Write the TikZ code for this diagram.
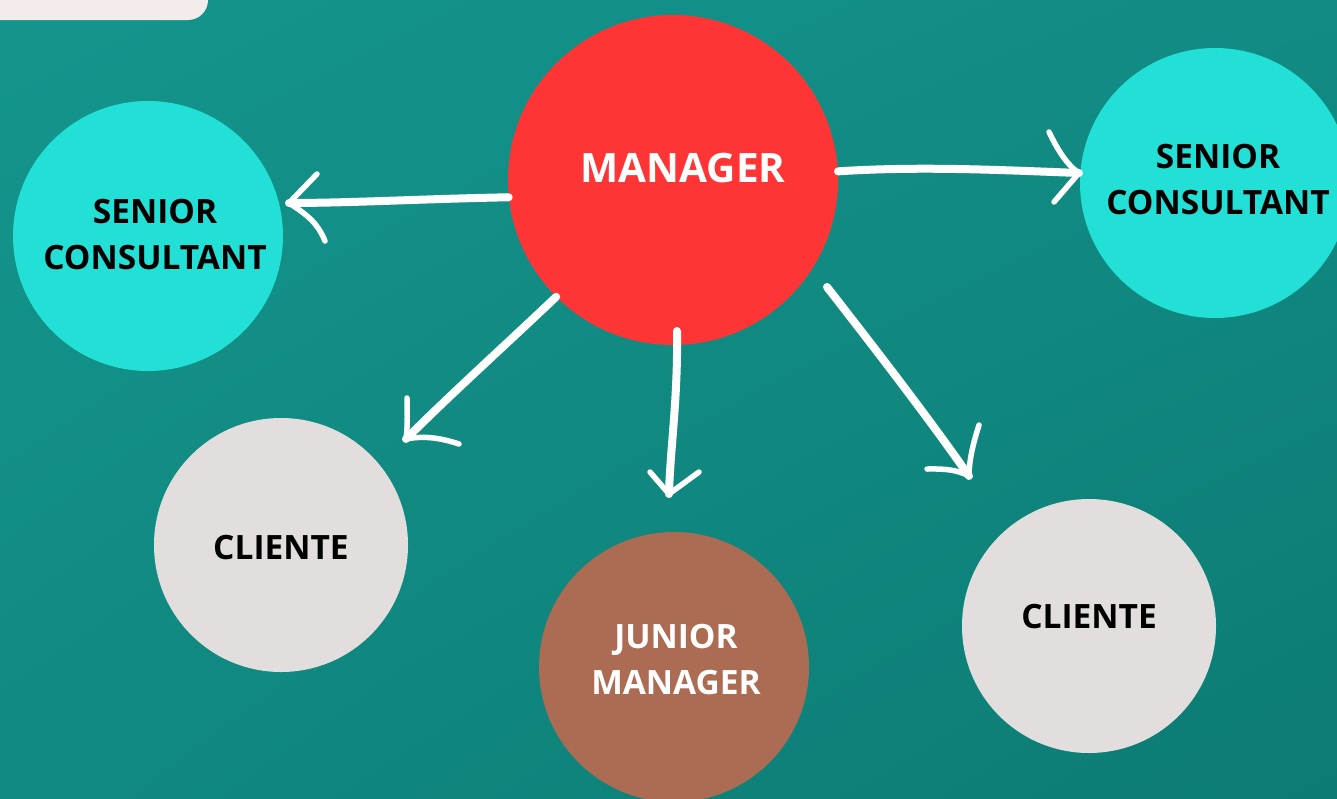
\documentclass[tikz,border=0pt]{standalone}
\usepackage{fontspec}
\setmainfont{Open Sans}[BoldFont={* Bold}]
\usetikzlibrary{shadings}
\definecolor{bgA}{HTML}{14958C}
\definecolor{bgB}{HTML}{118B83}
\definecolor{bgC}{HTML}{108A81}
\definecolor{bgD}{HTML}{0C7B73}
\definecolor{mgrred}{HTML}{FF3535}
\definecolor{cyanc}{HTML}{22E0D6}
\definecolor{greyc}{HTML}{E2DEDD}
\definecolor{brownc}{HTML}{AC6B53}
\definecolor{tabc}{HTML}{F3ECEA}
\tikzset{
  bubble/.style={circle,draw=none,inner sep=0pt},
  lbl/.style={font=\bfseries\fontsize{33.5}{46}\selectfont,align=center,inner sep=0pt},
  shaft/.style={draw=white,line width=8pt,line cap=round,line join=round},
  barb/.style={draw=white,line width=5.5pt,line cap=round,line join=round},
}
\begin{document}
\begin{tikzpicture}[x=1pt,y=-1pt]
\useasboundingbox (0,0) rectangle (1337,798);
\begin{scope}
\clip (0,0) rectangle (1337,798);
\shade[upper left=bgA,upper right=bgB,lower left=bgC,lower right=bgD] (0,0) rectangle (1337,798);
\fill[tabc,rounded corners=20pt] (-30,-30) rectangle (208,20);
% circles
\node[bubble,fill=mgrred,minimum size=330pt] (mgr) at (673,180) {};
\node[bubble,fill=cyanc,minimum size=270pt] (scl) at (148,236) {};
\node[bubble,fill=cyanc,minimum size=270pt] (scr) at (1215,183) {};
\node[bubble,fill=greyc,minimum size=254pt] (cll) at (281,545) {};
\node[bubble,fill=brownc,minimum size=270pt] (jm) at (674,667) {};
\node[bubble,fill=greyc,minimum size=254pt] (clr) at (1089,626) {};
\end{scope}
% labels
\node[lbl,text=white,font=\bfseries\fontsize{40.5}{46}\selectfont] (tmgr) at (683,168) {MANAGER};
\node[lbl,text=black] (tscl) at (155,235) {SENIOR\\CONSULTANT};
\node[lbl,text=black] (tscr) at (1218,180) {SENIOR\\CONSULTANT};
\node[lbl,text=black] (tcll) at (281,548) {CLIENTE};
\node[lbl,text=black] (tclr) at (1089,617) {CLIENTE};
\node[lbl,text=white] (tjm) at (676,660) {JUNIOR\\MANAGER};
% arrow tips
\coordinate (pL) at (289,203);
\coordinate (pR) at (1079,173);
\coordinate (pLL) at (406,439);
\coordinate (pD) at (669,494);
\coordinate (pLR) at (969,476);
% arrows
\draw[shaft] (mgr.186) .. controls (420,199) and (350,203) .. (pL);
\draw[barb] (pL) -- ++(28,-29);
\draw[barb] (pL) .. controls ++(15,10) and ++(-8,-20) .. ++(36,38);
\draw[shaft] (mgr.3) .. controls (920,166) and (1000,170) .. (pR);
\draw[barb] (pR) .. controls ++(-15,-10) and ++(5,10) .. ++(-30,-41);
\draw[barb] (pR) -- ++(-25,29);
\draw[shaft] (mgr.225) .. controls (500,350) and (450,395) .. (pLL);
\draw[barb] (pLL) .. controls ++(2,-15) and ++(0,10) .. ++(1,-41);
\draw[barb] (pLL) .. controls ++(20,-4) and ++(-15,-5) .. ++(53,5);
\draw[shaft] (677,331) .. controls (678,400) and (670,450) .. (pD);
\draw[barb] (pD) -- ++(-19,-22);
\draw[barb] (pD) -- ++(30,-22);
\draw[shaft] (827,287) .. controls (880,355) and (930,420) .. (pLR);
\draw[barb] (pLR) .. controls ++(0,-20) and ++(-3,10) .. ++(10,-51);
\draw[barb] (pLR) .. controls ++(-15,-8) and ++(10,0) .. ++(-42,-7);
\end{tikzpicture}
\end{document}
